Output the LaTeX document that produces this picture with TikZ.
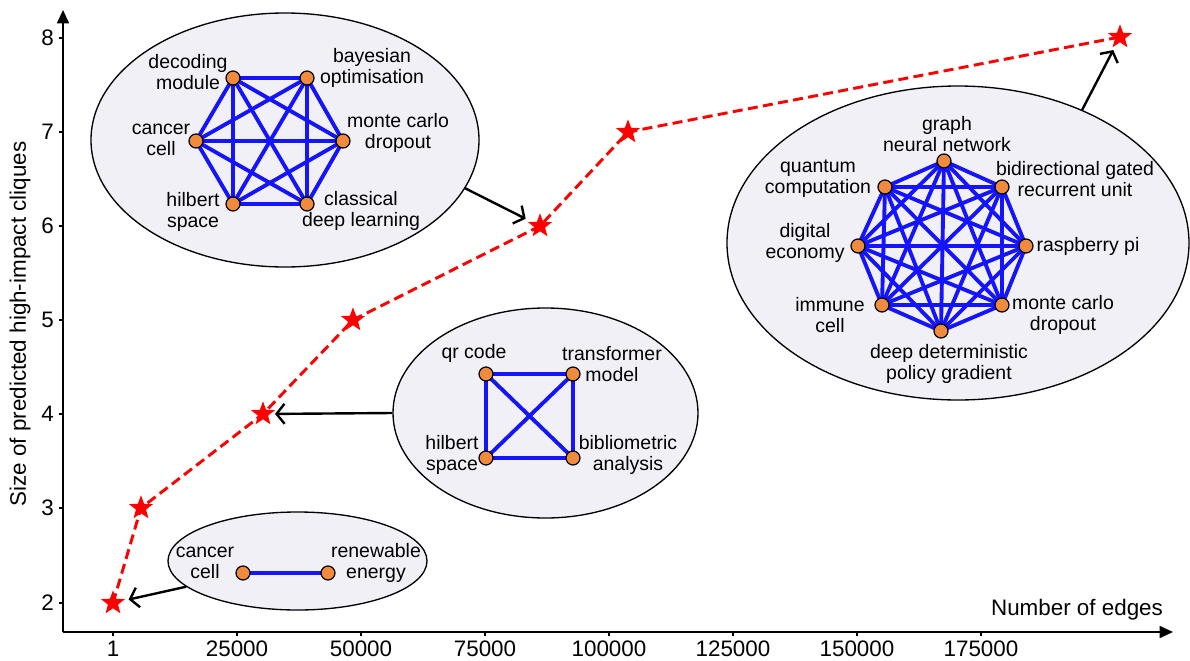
\documentclass[tikz,border=0pt]{standalone}
\usepackage{fontspec}
\setmainfont{Liberation Sans}
\usetikzlibrary{shapes.geometric,arrows.meta}
\definecolor{ellfill}{RGB}{242,240,247}
\definecolor{nodeor}{RGB}{240,138,60}
\definecolor{edgeblue}{RGB}{20,20,255}
\pgfdeclarelayer{back}
\pgfdeclarelayer{mid}
\pgfsetlayers{back,mid,main}
\begin{document}
\begin{tikzpicture}[x=0.75pt,y=-0.75pt,
  bubble/.style={ellipse,draw=black,line width=1pt,fill=ellfill,inner sep=0pt},
  kw/.style={circle,draw=black,line width=0.9pt,fill=nodeor,minimum size=10.5pt,inner sep=0pt},
  lbl/.style={align=center,font=\fontsize{14.6}{15.8}\selectfont,inner sep=0pt},
  ed/.style={draw=edgeblue,line width=2.9pt},
  starpt/.style={star,star points=5,star point ratio=2.4,fill=red,draw=none,minimum size=19pt,inner sep=0pt},
  trend/.style={draw=red,line width=2.2pt,dash pattern=on 7.5pt off 4pt},
  callout/.style={draw=black,line width=1.8pt,-{Straight Barb[length=6pt,width=15pt]}},
  axisline/.style={draw=black,line width=1.3pt},
  ticklbl/.style={font=\fontsize{16.8}{18}\selectfont,inner sep=0pt},
  axlbl/.style={font=\fontsize{16.8}{18}\selectfont,inner sep=0pt},
]
\useasboundingbox (0,0) rectangle (1190,661);
\begin{pgfonlayer}{back}
\fill[white] (0,0) rectangle (1190,661);
\end{pgfonlayer}

% axes
\draw[axisline,-{Triangle[length=10pt,width=9pt]}] (63,632) -- (63,10);
\draw[axisline,-{Triangle[length=10pt,width=9pt]}] (63,632) -- (1173,632);
\foreach \v/\yy in {2/603,3/508,4/414,5/320,6/226,7/132,8/38}{
  \draw[axisline] (59,\yy) -- (63,\yy);
  \node[ticklbl,anchor=east] (yt\v) at (54,\yy) {\v};
}
\foreach \k/\xx/\t in {0/113/1,1/237/25000,2/361/50000,3/485/75000,4/609/100000,5/733/125000,6/857/150000,7/981/175000}{
  \draw[axisline] (\xx,632) -- (\xx,636);
  \node[ticklbl] (xt\k) at (\xx,649) {\t};
}
\node[axlbl,rotate=90] (ylab) at (20,324) {Size of predicted high-impact cliques};
\node[axlbl] (xlab) at (1077,610) {Number of edges};

% bubbles
\begin{pgfonlayer}{back}
\node[bubble,minimum width=291pt,minimum height=190.5pt] (e1) at (285,140) {};
\node[bubble,minimum width=194.25pt,minimum height=73.5pt] (e2) at (297.5,561) {};
\node[bubble,minimum width=228.75pt,minimum height=157.5pt] (e3) at (545.5,413) {};
\node[bubble,minimum width=346.5pt,minimum height=235.5pt] (e4) at (958,243) {};
\end{pgfonlayer}

% trend line and stars
\node[starpt] (s2) at (113,603) {};
\node[starpt] (s3) at (141,508) {};
\node[starpt] (s4) at (263,414) {};
\node[starpt] (s5) at (353,320) {};
\node[starpt] (s6) at (540,226) {};
\node[starpt] (s7) at (628,132) {};
\node[starpt] (s8) at (1120,37) {};
\begin{pgfonlayer}{mid}
\draw[trend] (s2.center) -- (s3.center) -- (s4.center) -- (s5.center) -- (s6.center) -- (s7.center) -- (s8.center);
\end{pgfonlayer}

% callout arrows
\draw[callout,shorten >=12pt] (e2.193) -- (s2.center);
\draw[callout,shorten >=9pt] (e3.180) -- (s4.center);
\draw[callout,shorten >=12pt] (e1.-15) -- (s6.center);
\draw[callout,shorten >=11pt] (e4.47) -- (s8.center);

% clique of 6
\node[kw] (a1) at (233,78) {};
\node[kw] (a2) at (307,78) {};
\node[kw] (a3) at (196,141) {};
\node[kw] (a4) at (343,141) {};
\node[kw] (a5) at (233,204) {};
\node[kw] (a6) at (307,204) {};
\node[lbl] (la1) at (188,72) {decoding\\module};
\node[lbl] (la2) at (372,68) {bayesian\\optimisation};
\node[lbl] (la3) at (161,140) {cancer\\cell};
\node[lbl] (la4) at (398,133) {monte carlo\\dropout};
\node[lbl] (la5) at (193,212) {hilbert\\space};
\node[lbl] (la6) at (361,211) {classical\\deep learning};

% clique of 8
\node[kw] (b1) at (944,161) {};
\node[kw] (b2) at (1002,187) {};
\node[kw] (b3) at (1026,246) {};
\node[kw] (b4) at (1002,305) {};
\node[kw] (b5) at (941,331) {};
\node[kw] (b6) at (882,305) {};
\node[kw] (b7) at (858,246) {};
\node[kw] (b8) at (885,187) {};
\node[lbl] (lb1) at (947,134) {graph\\neural network};
\node[lbl] (lb2) at (1075,179) {bidirectional gated\\recurrent unit};
\node[lbl] (lb3) at (1088,246) {raspberry pi};
\node[lbl] (lb4) at (1063,315) {monte carlo\\dropout};
\node[lbl] (lb5) at (949,364) {deep deterministic\\policy gradient};
\node[lbl] (lb6) at (830,315) {immune\\cell};
\node[lbl] (lb7) at (805,243) {digital\\economy};
\node[lbl] (lb8) at (818,179) {quantum\\computation};

% clique of 4
\node[kw] (c1) at (486,374) {};
\node[kw] (c2) at (573,374) {};
\node[kw] (c3) at (486,458) {};
\node[kw] (c4) at (573,458) {};
\node[lbl] (lc1) at (474,353) {qr code};
\node[lbl] (lc2) at (612,364) {transformer\\model};
\node[lbl] (lc3) at (452,455) {hilbert\\space};
\node[lbl] (lc4) at (628,455) {bibliometric\\analysis};

% clique of 2
\node[kw] (d1) at (243,573) {};
\node[kw] (d2) at (328,573) {};
\node[lbl] (ld1) at (205,563) {cancer\\cell};
\node[lbl] (ld2) at (376,563) {renewable\\energy};

\begin{pgfonlayer}{mid}
\foreach \i in {1,...,6}{\foreach \j in {1,...,6}{\ifnum\i<\j \draw[ed] (a\i.center) -- (a\j.center);\fi}}
\foreach \i in {1,...,8}{\foreach \j in {1,...,8}{\ifnum\i<\j \draw[ed] (b\i.center) -- (b\j.center);\fi}}
\foreach \i in {1,...,4}{\foreach \j in {1,...,4}{\ifnum\i<\j \draw[ed] (c\i.center) -- (c\j.center);\fi}}
\draw[ed] (d1.center) -- (d2.center);
\end{pgfonlayer}
\end{tikzpicture}
\end{document}
